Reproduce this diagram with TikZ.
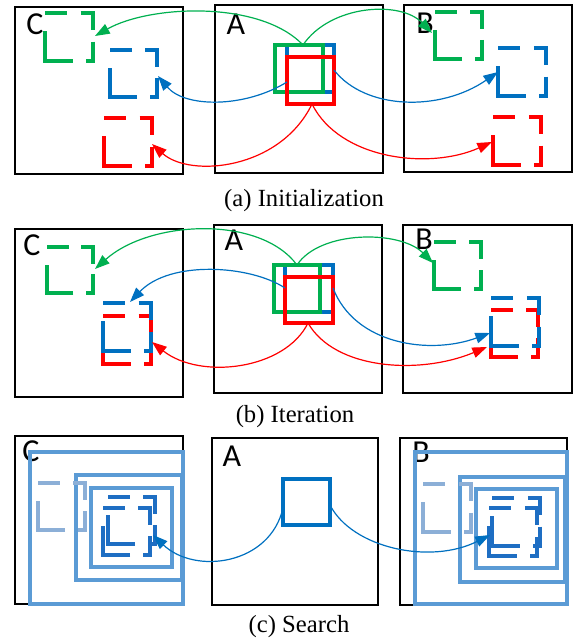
\documentclass[tikz,border=0pt]{standalone}
\usepackage{fontspec}
\setmainfont{Liberation Serif}
\newfontfamily\labelfont{Carlito}
\usetikzlibrary{arrows.meta}
\definecolor{cgreen}{RGB}{0,176,80}
\definecolor{cblue}{RGB}{0,112,192}
\definecolor{cred}{RGB}{255,0,0}
\definecolor{lblue}{RGB}{91,155,213}
\definecolor{fblue}{RGB}{140,175,215}
\definecolor{dblue}{RGB}{30,110,195}

\tikzset{
  panel/.style={draw=black, line width=2.2pt},
  tgt/.style={line width=2.5pt},
  win/.style={line width=2.3pt, draw=lblue},
  link/.style={line width=0.9pt, -{Triangle[length=11pt,width=8pt]}},
  plabel/.style={font=\labelfont\fontsize{24}{24}\selectfont, inner sep=0pt},
  caption/.style={font=\fontsize{18.5}{20}\selectfont, anchor=base, inner sep=0pt},
}

% dashed candidate square: colour, left, top, side (pixel units, y downwards)
\newcommand\dashsq[4]{%
  \begin{scope}[shift={(#2,#3)}, scale=#4/47, color=#1, line width=2.4pt]
    \draw (0,0)--(22,0);
    \draw (35,0)--(47,0)--(47,17);
    \draw (47,28)--(47,47)--(40,47);
    \draw (27,47)--(0,47)--(0,18);
  \end{scope}}

\begin{document}
\begin{tikzpicture}[x=0.75pt, y=-0.75pt]
\useasboundingbox (0,0) rectangle (574,641);

% ---------------- (a) Initialization ----------------
\draw[panel] (15,7) rectangle (183,174);
\draw[panel] (215,5) rectangle (383,173);
\draw[panel] (404,5) rectangle (572,172);

\draw[tgt, cblue]  (287,45) rectangle (334,92);
\draw[tgt, cgreen] (275,45) rectangle (323,92);
\draw[tgt, cred]   (287,57) rectangle (334,104);

\dashsq{cgreen}{45}{13}{48}
\dashsq{cblue}{110}{50}{47}
\dashsq{cred}{104}{118}{48}
\dashsq{cgreen}{435}{12}{47}
\dashsq{cblue}{498}{48}{48}
\dashsq{cred}{493}{117}{48}

\node[plabel] (aC) at (35,24) {C};
\node[plabel] (aA) at (236,24) {A};
\node[plabel] (aB) at (425,23) {B};

\coordinate (aGs) at (303,45);
\coordinate (aBl) at (287,82);
\coordinate (aBr) at (334,70);
\coordinate (aRs) at (312,104);
\coordinate (aGC) at (95,36);
\coordinate (aBC) at (158,76);
\coordinate (aRC) at (152,144);
\coordinate (aGB) at (432,33);
\coordinate (aBB) at (498,72);
\coordinate (aRB) at (492,142);

\draw[link, cgreen] (aGs) .. controls (260,0) and (150,5) .. (aGC);
\draw[link, cgreen] (aGs) .. controls (330,5) and (400,0) .. (aGB);
\draw[link, cblue]  (aBl) .. controls (245,108) and (185,108) .. (aBC);
\draw[link, cblue]  (aBr) .. controls (365,110) and (440,112) .. (aBB);
\draw[link, cred]   (aRs) .. controls (280,170) and (190,178) .. (aRC);
\draw[link, cred]   (aRs) .. controls (340,160) and (430,170) .. (aRB);

\node[caption] (capa) at (304,207) {(a) Initialization};

% ---------------- (b) Iteration ----------------
\draw[panel] (15,229) rectangle (183,397);
\draw[panel] (214,225) rectangle (382,393);
\draw[panel] (403,225) rectangle (572,393);

\draw[tgt, cblue]  (285,265) rectangle (333,312);
\draw[tgt, cgreen] (274,265) rectangle (320,312);
\draw[tgt, cred]   (285,277) rectangle (333,323);

\dashsq{cgreen}{47}{247}{46}
\dashsq{cred}{103}{316}{48}
\dashsq{cblue}{103}{303}{48}
\dashsq{cgreen}{434}{242}{47}
\dashsq{cred}{491}{310}{47}
\dashsq{cblue}{491}{298}{48}

\node[plabel] (bC) at (32,245) {C};
\node[plabel] (bA) at (234,240) {A};
\node[plabel] (bB) at (424,239) {B};

\coordinate (bGs) at (297,265);
\coordinate (bBl) at (285,288);
\coordinate (bBr) at (333,288);
\coordinate (bRs) at (308,323);
\coordinate (bGC) at (95,269);
\coordinate (bBC) at (130,302);
\coordinate (bRC) at (152,342);
\coordinate (bGB) at (433,263);
\coordinate (bBB) at (490,333);
\coordinate (bRB) at (487,347);

\draw[link, cgreen] (bGs) .. controls (260,215) and (150,220) .. (bGC);
\draw[link, cgreen] (bGs) .. controls (320,230) and (400,230) .. (bGB);
\draw[link, cblue]  (bBl) .. controls (250,265) and (170,260) .. (bBC);
\draw[link, cblue]  (bBr) .. controls (355,345) and (430,355) .. (bBB);
\draw[link, cred]   (bRs) .. controls (285,370) and (200,380) .. (bRC);
\draw[link, cred]   (bRs) .. controls (335,370) and (420,375) .. (bRB);

\node[caption] (capb) at (295,422) {(b) Iteration};

% ---------------- (c) Search ----------------
\draw[panel] (15,436) rectangle (183,604);
\draw[panel] (212,438) rectangle (378,605);
\draw[panel] (400,438) rectangle (567,605);

\node[plabel] (cC) at (31,451) {C};
\node[plabel] (cA) at (232,456) {A};
\node[plabel] (cB) at (421,452) {B};

\draw[tgt, cblue] (283,479) rectangle (330,525);

% search windows around the previous estimate
\draw[win] (30,452) rectangle (183,604);
\draw[win] (76,475) rectangle (182,580);
\draw[win] (91,488) rectangle (172,567);
\dashsq{fblue}{38}{483}{47}
\dashsq{dblue}{108}{497}{47}
\dashsq{dblue}{103}{508}{47}

\draw[win] (415,452) rectangle (567,604);
\draw[win] (460,477) rectangle (565,582);
\draw[win] (476,489) rectangle (557,568);
\dashsq{fblue}{423}{484}{48}
\dashsq{dblue}{492}{498}{48}
\dashsq{dblue}{489}{508}{48}

\coordinate (cBl) at (283,508);
\coordinate (cBr) at (330,505);
\coordinate (cBC) at (153,535);
\coordinate (cBB) at (490,535);

\draw[link, cblue] (cBl) .. controls (270,565) and (195,575) .. (cBC);
\draw[link, cblue] (cBr) .. controls (352,548) and (430,565) .. (cBB);

\node[caption] (capc) at (299,632) {(c) Search};
\end{tikzpicture}
\end{document}
